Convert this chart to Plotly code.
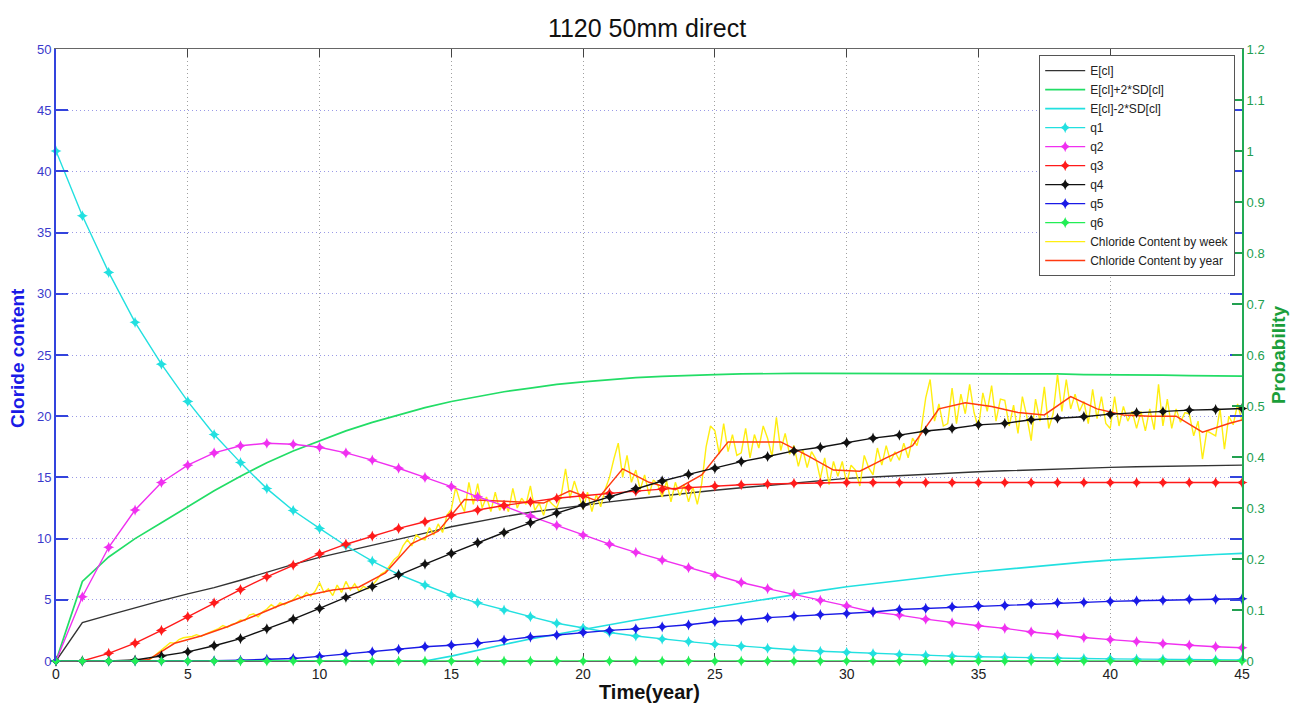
import numpy as np
import plotly.graph_objects as go

# ---------------- data ----------------
years = list(range(0, 46))

# expected chloride content and +/- 2 SD band (left axis)
e_cl = [0.0, 3.13, 3.75, 4.35, 4.93, 5.48, 6.0, 6.6, 7.25, 7.9, 8.47, 8.95, 9.45, 9.95,
        10.45, 10.97, 11.4, 11.8, 12.15, 12.45, 12.74, 13.0, 13.25, 13.5, 13.75, 13.95,
        14.15, 14.35, 14.55, 14.75, 14.92, 15.03, 15.15, 15.25, 15.36, 15.46, 15.54,
        15.62, 15.7, 15.76, 15.82, 15.87, 15.91, 15.95, 15.98, 16.0]
e_cl_plus = [0.0, 6.5, 8.5, 10.0, 11.3, 12.6, 13.9, 15.1, 16.2, 17.15, 18.0, 18.8, 19.5,
             20.1, 20.7, 21.2, 21.6, 22.0, 22.3, 22.6, 22.8, 23.0, 23.15, 23.25, 23.35,
             23.4, 23.45, 23.5, 23.5, 23.5, 23.5, 23.5, 23.5, 23.5, 23.5, 23.5, 23.5,
             23.45, 23.45, 23.4, 23.4, 23.38, 23.35, 23.32, 23.3, 23.28]
e_cl_minus = [0.0, 0.0, 0.0, 0.0, 0.0, 0.0, 0.0, 0.0, 0.0, 0.0, 0.0, 0.0, 0.0, 0.0, 0.0,
              0.4, 0.9, 1.35, 1.8, 2.2, 2.6, 3.0, 3.35, 3.7, 4.05, 4.4, 4.75, 5.1, 5.45,
              5.75, 6.06, 6.32, 6.58, 6.84, 7.07, 7.29, 7.5, 7.7, 7.9, 8.08, 8.24, 8.37,
              8.5, 8.61, 8.7, 8.79]

# state probabilities (right axis)
q1 = [1.0, 0.873, 0.762, 0.664, 0.582, 0.509, 0.444, 0.389, 0.338, 0.295, 0.260, 0.226,
      0.196, 0.170, 0.149, 0.129, 0.114, 0.100, 0.087, 0.074, 0.065, 0.056, 0.049, 0.043,
      0.038, 0.033, 0.029, 0.025, 0.022, 0.019, 0.017, 0.0146, 0.0127, 0.011, 0.0096,
      0.0084, 0.0072, 0.0062, 0.0055, 0.0048, 0.0041, 0.0036, 0.0031, 0.0026, 0.0024,
      0.0022]
q2 = [0.0, 0.126, 0.223, 0.296, 0.350, 0.384, 0.408, 0.422, 0.427, 0.425, 0.419, 0.408,
      0.394, 0.378, 0.360, 0.342, 0.322, 0.304, 0.284, 0.266, 0.247, 0.229, 0.213, 0.198,
      0.183, 0.168, 0.154, 0.142, 0.131, 0.119, 0.108, 0.096, 0.090, 0.082, 0.075, 0.069,
      0.064, 0.057, 0.052, 0.046, 0.042, 0.038, 0.034, 0.031, 0.028, 0.026]
q3 = [0.0, 0.0, 0.015, 0.035, 0.060, 0.087, 0.114, 0.140, 0.165, 0.188, 0.210, 0.229,
      0.245, 0.260, 0.273, 0.286, 0.296, 0.305, 0.312, 0.319, 0.324, 0.329, 0.333, 0.337,
      0.340, 0.343, 0.3456, 0.347, 0.3485, 0.3494, 0.350, 0.350, 0.350, 0.350, 0.350,
      0.350, 0.350, 0.350, 0.350, 0.350, 0.350, 0.350, 0.350, 0.350, 0.350, 0.350]
q4 = [0.0, 0.0, 0.0, 0.002, 0.010, 0.018, 0.030, 0.044, 0.063, 0.082, 0.103, 0.125,
      0.146, 0.169, 0.190, 0.211, 0.232, 0.252, 0.271, 0.290, 0.306, 0.322, 0.338, 0.353,
      0.366, 0.378, 0.391, 0.401, 0.412, 0.419, 0.428, 0.437, 0.443, 0.451, 0.456, 0.463,
      0.466, 0.473, 0.476, 0.479, 0.484, 0.487, 0.489, 0.492, 0.493, 0.495]
q5 = [0.0, 0.0, 0.0, 0.0, 0.0, 0.0, 0.0005, 0.0015, 0.003, 0.005, 0.009, 0.0137, 0.018,
      0.023, 0.028, 0.031, 0.035, 0.041, 0.047, 0.051, 0.056, 0.060, 0.063, 0.067, 0.071,
      0.077, 0.080, 0.085, 0.088, 0.091, 0.093, 0.096, 0.101, 0.103, 0.106, 0.108, 0.109,
      0.112, 0.114, 0.115, 0.117, 0.118, 0.119, 0.121, 0.121, 0.122]
q6 = [0.0, 0.0, 0.0, 0.0, 0.0, 0.0, 0.0, 0.0, 0.0, 0.0, 0.0, 0.0, 0.0, 0.0, 0.0, 0.0,
      0.0, 0.0, 0.0, 0.0, 0.0, 0.0, 0.0, 0.0, 0.0, 0.0, 0.0, 0.0, 0.0, 0.0, 0.0, 0.0,
      0.0, 0.0, 0.0, 0.0, 0.0, 0.0, 0.0, 0.0, 0.0, 0.0, 0.0, 0.0, 0.0, 0.0]

# simulated chloride content, six samples per year from year 3 to year 45
weekly_cl = [
    0.0, 0.0, 0.0, 0.05, 0.3, 0.6,          # 3
    0.9, 1.2, 1.5, 1.45, 1.75, 1.9,         # 4
    1.95, 2.0, 2.15, 2.0, 2.2, 2.35,        # 5
    2.5, 2.65, 2.9, 2.75, 3.0, 3.1,         # 6
    3.35, 3.3, 3.75, 3.85, 3.6, 4.0,        # 7
    4.25, 4.6, 4.35, 4.75, 4.6, 4.85,       # 8
    5.0, 5.4, 5.15, 5.6, 5.3, 5.7,          # 9
    6.4, 5.6, 5.9, 5.35, 6.2, 5.6,          # 10
    6.5, 5.8, 6.3, 5.7, 6.1, 5.9,           # 11
    6.2, 6.6, 7.1, 7.3, 7.8, 8.3,           # 12
    8.6, 9.4, 9.9, 9.4, 10.3, 10.0,         # 13
    9.9, 10.9, 10.3, 11.2, 10.5, 11.9,      # 14
    12.4, 14.2, 13.0, 12.2, 14.6, 12.8,     # 15
    14.5, 12.5, 13.4, 12.2, 13.8, 12.3,     # 16
    13.1, 12.2, 14.1, 12.5, 13.3, 12.8,     # 17
    14.3, 12.3, 12.9, 11.9, 13.2, 12.8,     # 18
    12.5, 13.5, 15.7, 13.3, 14.7, 13.6,     # 19
    12.4, 13.8, 12.2, 13.6, 12.6, 14.0,     # 20
    15.0, 16.5, 17.8, 15.0, 16.8, 14.6,     # 21
    15.6, 14.0, 15.2, 13.6, 14.8, 14.4,     # 22
    13.4, 14.7, 13.0, 14.6, 13.5, 14.4,     # 23
    13.0, 14.2, 12.8, 14.5, 17.5, 19.2,     # 24
    18.8, 16.9, 19.4, 17.1, 18.5, 16.8,     # 25
    17.0, 19.0, 16.6, 18.5, 17.4, 19.2,     # 26
    18.2, 16.7, 19.9, 17.2, 18.6, 16.9,     # 27
    17.6, 15.9, 17.3, 15.8, 17.1, 16.5,     # 28
    14.9, 16.6, 14.4, 16.3, 15.1, 16.3,     # 29
    14.5, 16.0, 15.6, 14.3, 16.8, 15.8,     # 30
    15.2, 17.4, 16.0, 17.6, 16.3, 17.1,     # 31
    16.4, 17.8, 16.6, 18.2, 17.6, 19.0,     # 32
    21.5, 23.0, 19.6, 21.0, 19.2, 19.4,     # 33
    22.3, 19.4, 21.8, 20.2, 22.6, 20.3,     # 34
    19.0, 21.9, 20.4, 22.5, 19.6, 21.4,     # 35
    21.3, 19.2, 20.9, 18.6, 21.6, 20.0,     # 36
    18.0, 21.4, 19.6, 22.4, 19.0, 20.2,     # 37
    23.4, 20.4, 23.0, 20.6, 21.8, 20.4,     # 38
    21.2, 19.4, 22.2, 19.8, 21.6, 19.4,     # 39
    19.0, 21.6, 19.2, 20.8, 19.6, 20.4,     # 40
    19.0, 20.4, 18.8, 20.6, 18.9, 22.6,     # 41
    19.2, 21.4, 19.0, 20.6, 19.5, 20.3,     # 42
    20.2, 18.4, 19.6, 16.5, 18.8, 18.6,     # 43
    18.4, 20.6, 17.3, 20.0, 19.3, 21.0,     # 44
    19.6,                                   # 45
]
weekly_t = np.linspace(3.0, 45.0, len(weekly_cl))

# yearly mean chloride content, plotted at mid-year, closing at year 45
yearly_cl = [0.0, 0.0, 0.0, 0.1, 1.45, 2.05, 2.8, 3.65, 4.55, 5.35, 5.8, 6.05, 7.2, 9.6,
             10.6, 13.2, 13.1, 13.0, 12.9, 13.9, 13.1, 15.7, 14.6, 14.0, 15.2, 17.9, 17.9,
             17.9, 16.8, 15.6, 15.5, 16.6, 17.6, 20.6, 21.1, 20.8, 20.3, 20.1, 21.6, 20.6,
             20.1, 20.0, 20.0, 18.7, 19.4, 19.7]
yearly_t = list(np.arange(len(yearly_cl) - 1) + 0.5) + [45.0]

x_ticks = [0, 5, 10, 15, 20, 25, 30, 35, 40, 45]

# ---------------- figure ----------------
fig = go.Figure()

lw = 1.4
FONT = "Liberation Sans, Arial, sans-serif"

fig.add_trace(go.Scatter(x=years, y=e_cl, name="E[cl]", mode="lines",
                         line=dict(color="#333333", width=lw)))
fig.add_trace(go.Scatter(x=years, y=e_cl_plus, name="E[cl]+2*SD[cl]", mode="lines",
                         line=dict(color="#22dd66", width=lw + 0.3)))
fig.add_trace(go.Scatter(x=years, y=e_cl_minus, name="E[cl]-2*SD[cl]", mode="lines",
                         line=dict(color="#22e0e0", width=lw + 0.2)))

q_series = [("q1", q1, "#22e0e0"), ("q2", q2, "#f030f0"), ("q3", q3, "#ff1a1a"),
            ("q4", q4, "#111111"), ("q5", q5, "#1a1ae6"), ("q6", q6, "#22ee55")]
for name, vals, col in q_series:
    fig.add_trace(go.Scatter(x=years, y=vals, name=name, yaxis="y2",
                             mode="lines+markers",
                             line=dict(color=col, width=lw),
                             marker=dict(symbol="star-diamond", size=8, color=col,
                                         line=dict(width=0))))

fig.add_trace(go.Scatter(x=weekly_t, y=weekly_cl, name="Chloride Content by week",
                         mode="lines", line=dict(color="#ffee11", width=1.4)))
fig.add_trace(go.Scatter(x=yearly_t, y=yearly_cl, name="Chloride Content by year",
                         mode="lines", line=dict(color="#ff3a10", width=1.5)))

for tr in fig.data:
    tr.cliponaxis = False

fig.update_layout(
    width=1294, height=707,
    margin=dict(l=56, r=52, t=49, b=46),
    paper_bgcolor="white", plot_bgcolor="white",
    font=dict(family=FONT, size=12, color="#222"),
    title=dict(text="1120 50mm direct", x=0.5, xanchor="center",
               y=1 - 28 / 707, yanchor="middle", yref="container",
               font=dict(size=25, color="#111", family=FONT)),
    showlegend=True,
    legend=dict(x=0.829, y=0.99, xanchor="left", yanchor="top",
                bgcolor="white", bordercolor="#555", borderwidth=1,
                font=dict(size=12, color="#222", family=FONT),
                tracegroupgap=0, itemwidth=40),
    xaxis=dict(range=[0, 45], tickvals=x_ticks, ticks="inside", ticklen=8,
               tickcolor="#444", tickwidth=1, mirror="ticks", showline=True,
               linecolor="#666", linewidth=1.2, showgrid=True, gridcolor="#a0a0a0",
               griddash="1px,3px", gridwidth=1, zeroline=False, layer="below traces",
               tickfont=dict(size=14, color="#222")),
    yaxis=dict(range=[0, 50], dtick=5, tick0=0, ticks="inside", ticklen=12,
               tickcolor="#3344dd", tickwidth=2, mirror="ticks", showline=True,
               linecolor="#3344dd", linewidth=2, showgrid=True, gridcolor="#9a9ae6",
               griddash="1px,3px", gridwidth=1, zeroline=False,
               tickfont=dict(size=13, color="#3a3acc")),
    yaxis2=dict(range=[0, 1.2], dtick=0.1, tick0=0, overlaying="y", side="right",
                ticks="inside", ticklen=10, tickcolor="#22a050", tickwidth=1.5,
                showline=True, linecolor="#22aa55", linewidth=2, showgrid=False,
                zeroline=False, tickfont=dict(size=13, color="#22a050")),
    annotations=[
        dict(text="<b>Cloride content</b>", xref="paper", yref="paper",
             x=-0.033, y=0.495, xanchor="center", yanchor="middle", textangle=-90,
             showarrow=False, font=dict(size=19, color="#1a1ae6", family=FONT)),
        dict(text="<b>Probability</b>", xref="paper", yref="paper",
             x=1.0304, y=0.5, xanchor="center", yanchor="middle", textangle=-90,
             showarrow=False, font=dict(size=19, color="#1a9e3a", family=FONT)),
        dict(text="<b>Time(year)</b>", xref="paper", yref="paper",
             x=0.5, y=-0.05, showarrow=False, yanchor="middle",
             font=dict(size=20, color="#111", family=FONT)),
    ],
)

fig.write_html("out.html")
